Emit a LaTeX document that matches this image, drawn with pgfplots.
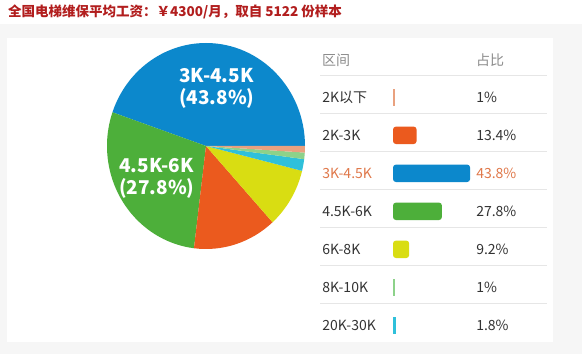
\documentclass[border=0pt]{standalone}
\usepackage{pgfplots}
\pgfplotsset{compat=1.18}
\usepackage{fontspec}
\setmainfont{Noto Sans CJK SC}
\definecolor{pieblue}{HTML}{0C88CC}
\definecolor{piegreen}{HTML}{4DAF3A}
\definecolor{piered}{HTML}{EB5A1E}
\definecolor{pieyellow}{HTML}{D9DD12}
\definecolor{piecyan}{HTML}{2FC0DA}
\definecolor{pielightgreen}{HTML}{8DD28A}
\definecolor{piesalmon}{HTML}{E9A17F}
\definecolor{titlered}{HTML}{B21E1E}
\definecolor{bggray}{HTML}{F6F6F6}
\definecolor{labgray}{HTML}{333333}
\definecolor{headgray}{HTML}{8C8C8C}
\definecolor{hiorange}{HTML}{E0784A}
\definecolor{sepgray}{HTML}{E6E6E6}
\tikzset{tbl/.style={anchor=west, inner sep=0pt, font=\fontsize{14}{16}\selectfont}}
\def\cum{0}
\def\pietotal{98}
\newcommand\piesector[2]{%
  \pgfmathsetmacro\sa{\cum/\pietotal*360}%
  \pgfmathsetmacro\sb{(\cum+#2)/\pietotal*360}%
  \edef\doit{\noexpand\fill[#1] (axis cs:0,0) -- (axis cs:{cos(\sa)},{sin(\sa)}) arc[start angle=\sa, end angle=\sb, x radius=99pt, y radius=103pt] -- cycle;}%
  \doit
  \pgfmathsetmacro\tmp{\cum+#2}\xdef\cum{\tmp}%
}
\begin{document}
\begin{tikzpicture}[x=1pt,y=1pt]
\path[use as bounding box] (0,0) rectangle (582,354);
\fill[white] (0,0) rectangle (582,354);
\fill[bggray] (0,0) rectangle (582,330);
\fill[white] (7,12) rectangle (553,316);
\node[anchor=west, font=\bfseries\fontsize{13.5}{16}\selectfont, text=titlered, inner sep=0pt] at (8,342) {全国电梯维保平均工资：￥4300/月，取自 5122 份样本};
% table decoration
\foreach \yy in {279,240.7,202.3,164.7,126.7,88.3,50.7}
  \draw[sepgray, line width=0.8pt] (320,\yy) -- (547,\yy);
\node[tbl, text=headgray] at (322,294) {区间};
\node[tbl, text=headgray] at (476,294) {占比};
% pie
\begin{axis}[at={(206pt,208pt)}, anchor=center, scale only axis, width=198pt, height=206pt,
  xmin=-1, xmax=1, ymin=-1, ymax=1, hide axis, clip=false]
\piesector{pieblue}{43.8}
\piesector{piegreen}{27.8}
\piesector{piered}{13.4}
\piesector{pieyellow}{9.2}
\piesector{piecyan}{1.8}
\piesector{pielightgreen}{1}
\piesector{piesalmon}{1}
\end{axis}
\node[anchor=west, align=left, text=white, inner sep=0pt, font=\bfseries\fontsize{19}{22}\selectfont] at (179,265.5) {3K-4.5K\\(43.8\%)};
\node[anchor=west, align=left, text=white, inner sep=0pt, font=\bfseries\fontsize{19}{22}\selectfont] at (119,176) {4.5K-6K\\(27.8\%)};
% bars
\begin{axis}[at={(393pt,9.7pt)}, anchor=south west, scale only axis, width=176pt, height=266pt,
  xmin=0, xmax=100, ymin=-0.5, ymax=6.5, y dir=reverse, hide axis, clip=false,
  xbar, bar shift=0pt, bar width=17.5pt]
\addplot[fill=piesalmon, draw=none] coordinates {(1,0)};
\addplot[fill=piered, draw=none, rounded corners=3pt] coordinates {(13.4,1)};
\addplot[fill=pieblue, draw=none, rounded corners=3pt] coordinates {(43.8,2)};
\addplot[fill=piegreen, draw=none, rounded corners=3pt] coordinates {(27.8,3)};
\addplot[fill=pieyellow, draw=none, rounded corners=3pt] coordinates {(9.2,4)};
\addplot[fill=pielightgreen, draw=none] coordinates {(1,5)};
\addplot[fill=piecyan, draw=none] coordinates {(1.8,6)};
\node[tbl, text=labgray] at (axis cs:-40.3,0) {2K以下};
\node[tbl, text=labgray] at (axis cs:-40.3,1) {2K-3K};
\node[tbl, text=hiorange] at (axis cs:-40.3,2) {3K-4.5K};
\node[tbl, text=labgray] at (axis cs:-40.3,3) {4.5K-6K};
\node[tbl, text=labgray] at (axis cs:-40.3,4) {6K-8K};
\node[tbl, text=labgray] at (axis cs:-40.3,5) {8K-10K};
\node[tbl, text=labgray] at (axis cs:-40.3,6) {20K-30K};
\node[tbl, text=labgray] at (axis cs:47.2,0) {1\%};
\node[tbl, text=labgray] at (axis cs:47.2,1) {13.4\%};
\node[tbl, text=hiorange] at (axis cs:47.2,2) {43.8\%};
\node[tbl, text=labgray] at (axis cs:47.2,3) {27.8\%};
\node[tbl, text=labgray] at (axis cs:47.2,4) {9.2\%};
\node[tbl, text=labgray] at (axis cs:47.2,5) {1\%};
\node[tbl, text=labgray] at (axis cs:47.2,6) {1.8\%};
\end{axis}
\end{tikzpicture}
\end{document}
